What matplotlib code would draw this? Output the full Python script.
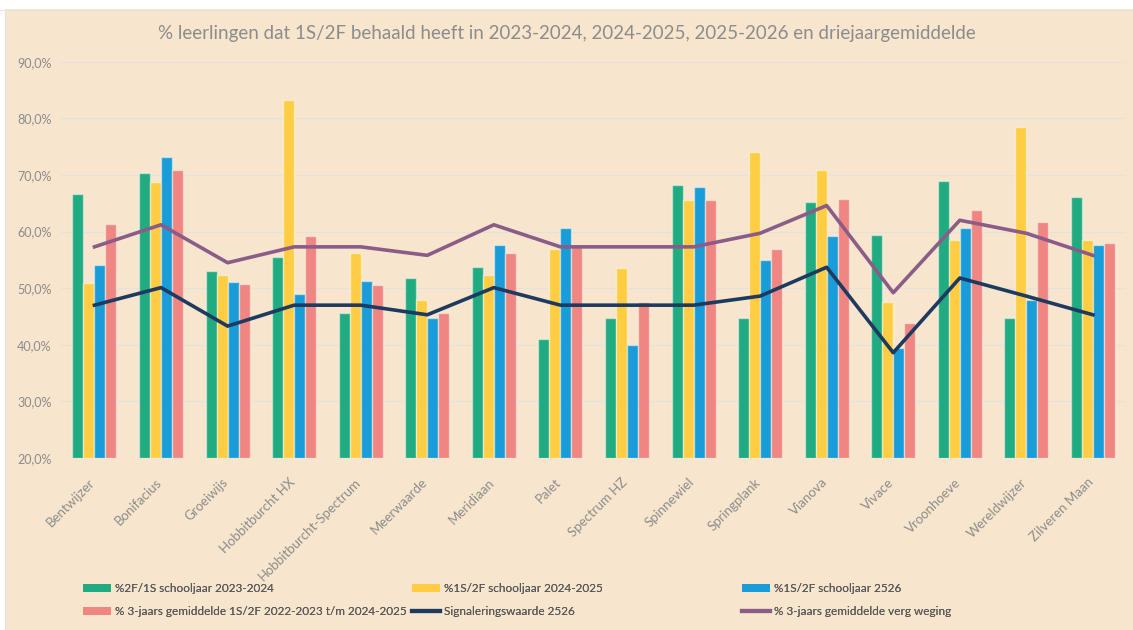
import numpy as np
import matplotlib
matplotlib.use('Agg')
import matplotlib.pyplot as plt
from matplotlib.patches import Patch, Rectangle
from matplotlib.lines import Line2D
from matplotlib.ticker import FuncFormatter

plt.rcParams['font.family'] = ['Lato', 'DejaVu Sans']

# ── data ─────────────────────────────────────────────────────────
scholen = ['Bentwijzer', 'Bonifacius', 'Groeiwijs', 'Hobbitburcht HX',
           'Hobbitburcht-Spectrum', 'Meerwaarde', 'Meridiaan', 'Palet',
           'Spectrum HZ', 'Spinnewiel', 'Springplank', 'Vianova', 'Vivace',
           'Vroonhoeve', 'Wereldwijzer', 'Zilveren Maan']

pct_2324 = [66.7, 70.4, 53.0, 55.5, 45.7, 51.8, 53.7, 41.0,
            44.7, 68.3, 44.7, 65.3, 59.4, 68.9, 44.7, 66.1]
pct_2425 = [51.0, 68.7, 52.4, 83.3, 56.2, 47.9, 52.3, 57.0,
            53.6, 65.6, 74.0, 70.8, 47.6, 58.5, 78.4, 58.5]
pct_2526 = [54.1, 73.1, 51.1, 48.9, 51.3, 44.8, 57.7, 60.7,
            39.9, 67.9, 55.0, 59.2, 39.5, 60.7, 48.0, 57.7]
gem_3jr = [61.4, 70.9, 50.8, 59.2, 50.6, 45.7, 56.2, 57.3,
           47.6, 65.5, 56.9, 65.8, 43.9, 63.8, 61.7, 58.0]
signalering = [47.0, 50.1, 43.3, 47.0, 47.0, 45.3, 50.1, 47.0,
               47.0, 47.0, 48.6, 53.7, 38.6, 51.8, 48.6, 45.3]
gem_verg = [57.3, 61.2, 54.5, 57.3, 57.3, 55.8, 61.2, 57.3,
            57.3, 57.3, 59.7, 64.6, 49.2, 62.0, 59.7, 55.8]

labels = ['%2F/1S schooljaar 2023-2024',
          '%1S/2F schooljaar 2024-2025',
          '%1S/2F schooljaar 2526',
          '% 3-jaars gemiddelde 1S/2F 2022-2023 t/m 2024-2025',
          'Signaleringswaarde 2526',
          '% 3-jaars gemiddelde verg weging']

# ── stijl ────────────────────────────────────────────────────────
BG = '#F7E6CD'
C_GREEN = '#21AB80'
C_YELLOW = '#FFCD44'
C_BLUE = '#199CD8'
C_RED = '#F08682'
C_NAVY = '#1F3A60'
C_PURPLE = '#8B5C88'
GREY = '#8C8C8C'

fig = plt.figure(figsize=(11.33, 6.30), dpi=100, facecolor=BG)
ax = fig.add_axes([0.054, 0.273, 0.940, 0.629])
ax.set_facecolor(BG)

# witte rand boven / links (Excel screenshot)
fig.patches.append(Rectangle((0, 1 - 9 / 630), 1, 9 / 630, transform=fig.transFigure,
                             facecolor='white', edgecolor='none', zorder=0))
fig.patches.append(Rectangle((0, 0), 5 / 1133, 1, transform=fig.transFigure,
                             facecolor='white', edgecolor='none', zorder=0))
fig.add_artist(Line2D([0, 1], [1 - 9.5 / 630] * 2, transform=fig.transFigure,
                      color='#E3E3E3', lw=0.8))
fig.add_artist(Line2D([5.5 / 1133] * 2, [0, 1 - 9.5 / 630], transform=fig.transFigure,
                      color='#E3E3E3', lw=0.8))

x = np.arange(len(scholen))
w = 0.165
series = [(pct_2324, C_GREEN), (pct_2425, C_YELLOW), (pct_2526, C_BLUE), (gem_3jr, C_RED)]
for i, (vals, col) in enumerate(series):
    ax.bar(x + (i - 1.5) * w, np.array(vals) - 20, bottom=20, width=w,
           color=col, edgecolor=(1, 1, 1, 0.45), linewidth=1.0, zorder=3)

ax.plot(x, signalering, color=C_NAVY, lw=2.6, zorder=4)
ax.plot(x, gem_verg, color=C_PURPLE, lw=2.6, zorder=4)

ax.set_xlim(-0.5, len(scholen) - 0.5)
ax.set_ylim(20, 90)
ax.set_yticks(np.arange(20, 91, 10))
ax.yaxis.set_major_formatter(FuncFormatter(lambda v, p: f'{v:.1f}%'.replace('.', ',')))
ax.grid(axis='y', color='#E6E1DA', lw=1.0, zorder=0)
for s in ax.spines.values():
    s.set_visible(False)
ax.tick_params(axis='y', length=0, pad=7, labelsize=9, labelcolor=GREY)
ax.tick_params(axis='x', length=0, pad=13, labelsize=9.5, labelcolor=GREY)
ax.set_xticks(x + 0.04)
ax.set_xticklabels(scholen, rotation=45, ha='right', va='top')

fig.text(0.5, 1 - 33 / 630,
         '% leerlingen dat 1S/2F behaald heeft in 2023-2024, 2024-2025, 2025-2026 en driejaargemiddelde',
         ha='center', va='center', fontsize=13.5, color=GREY)

# legenda in drie kolommen
handles = [Patch(facecolor=C_GREEN), Patch(facecolor=C_YELLOW), Patch(facecolor=C_BLUE),
           Patch(facecolor=C_RED), Line2D([0], [0], color=C_NAVY, lw=3),
           Line2D([0], [0], color=C_PURPLE, lw=3)]
col_x = [83, 412, 742]
for c in range(3):
    leg = fig.legend([handles[c], handles[c + 3]], [labels[c], labels[c + 3]],
                     loc='upper left', bbox_to_anchor=(col_x[c] / 1133, 1 - 583 / 630),
                     frameon=False, fontsize=8.5, labelcolor='#595959',
                     handlelength=2.4, handleheight=0.65, handletextpad=0.3,
                     labelspacing=1.0, borderpad=0, borderaxespad=0)
    fig.add_artist(leg)

fig.savefig('out.png', dpi=100, facecolor=BG)
